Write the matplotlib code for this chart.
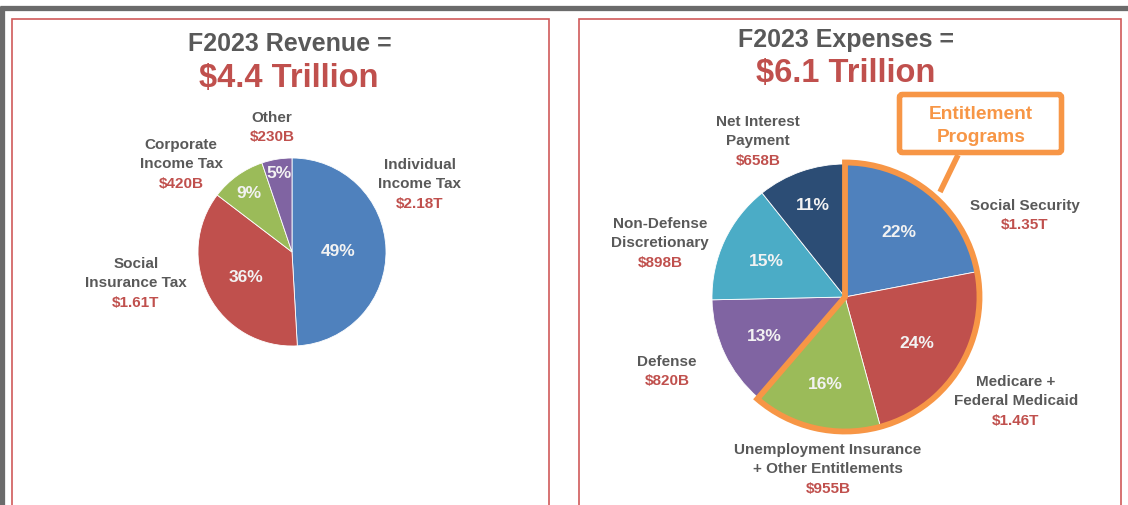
import numpy as np
import matplotlib.pyplot as plt
from matplotlib.patches import Rectangle, Wedge, FancyBboxPatch

plt.rcParams['font.family'] = ['Liberation Sans', 'DejaVu Sans']

# revenue data ($ trillions)
rev_names = ['Individual\nIncome Tax', 'Social\nInsurance Tax', 'Corporate\nIncome Tax', 'Other']
rev_labels = ['$2.18T', '$1.61T', '$420B', '$230B']
rev_values = [2.18, 1.61, 0.42, 0.23]

# expense data ($ trillions)
exp_names = ['Social Security', 'Medicare +\nFederal Medicaid',
             'Unemployment Insurance\n+ Other Entitlements', 'Defense',
             'Non-Defense\nDiscretionary', 'Net Interest\nPayment']
exp_labels = ['$1.35T', '$1.46T', '$955B', '$820B', '$898B', '$658B']
exp_values = [1.35, 1.46, 0.955, 0.820, 0.898, 0.658]
n_entitlement = 3

blue, red, green, purple = '#4F81BD', '#C0504D', '#9BBB59', '#8064A2'
cyan, navy = '#4BACC6', '#2C4D75'
orange = '#F79646'
gray = '#595959'

W, H = 1128, 506
fig = plt.figure(figsize=(W / 100, H / 100), dpi=100)
ax = fig.add_axes([0, 0, 1, 1])


def Y(y):
    return H - y


# slide frame + panels
ax.plot([0, W], [Y(8.5), Y(8.5)], color='#6B6B6B', lw=3.8, solid_capstyle='butt')
ax.plot([2, 2], [Y(7), 0], color='#6B6B6B', lw=3.8, solid_capstyle='butt')
for x0, x1 in [(12, 549), (579, 1121)]:
    ax.add_patch(Rectangle((x0, -10), x1 - x0, Y(20) + 10, fill=False,
                           edgecolor='#D05A5A', lw=1.2))


def draw_pie(values, colors, center, r, pct_dist):
    wedges, _ = ax.pie(values, colors=colors, startangle=90, counterclock=False,
                       center=(center[0], Y(center[1])), radius=r, frame=True,
                       wedgeprops=dict(edgecolor='white', linewidth=0.6))
    total = sum(values)
    for w, v, d in zip(wedges, values, pct_dist):
        a = np.deg2rad((w.theta1 + w.theta2) / 2)
        ax.text(center[0] + d * r * np.cos(a), Y(center[1]) + d * r * np.sin(a),
                f'{v / total * 100:.0f}%', color='#F2F2F2', fontsize=12.5,
                fontweight='bold', ha='center', va='center')


def draw_label(x, y0, name, value, step=19.3):
    lines = name.split('\n')
    for i, line in enumerate(lines):
        ax.text(x, Y(y0 + i * step), line, color=gray, fontsize=11,
                fontweight='bold', ha='center', va='center')
    ax.text(x, Y(y0 + len(lines) * step), value, color=red, fontsize=11,
            fontweight='bold', ha='center', va='center')


# revenue panel
ax.text(290, Y(44), 'F2023 Revenue =', color=gray, fontsize=18, fontweight='bold',
        ha='center', va='center')
ax.text(289, Y(78), '$4.4 Trillion', color=red, fontsize=23.5, fontweight='bold',
        ha='center', va='center')
draw_pie(rev_values, [blue, red, green, purple], (292, 253), 94, [0.49, 0.55, 0.78, 0.86])
rev_pos = [(420, 165), (136, 264), (181, 145), (272, 118)]
for (x, y), n, l in zip(rev_pos, rev_names, rev_labels):
    draw_label(x, y, n, l)

# expense panel
ax.text(846, Y(40), 'F2023 Expenses =', color=gray, fontsize=18, fontweight='bold',
        ha='center', va='center')
ax.text(846, Y(73), '$6.1 Trillion', color=red, fontsize=23.5, fontweight='bold',
        ha='center', va='center')
cx, cy, r = 845, 298, 133
draw_pie(exp_values, [blue, red, green, purple, cyan, navy], (cx, cy), r,
         [0.64, 0.64, 0.67, 0.67, 0.65, 0.74])
exp_pos = [(1025, 206), (1016, 382), (828, 450), (667, 362), (660, 224), (758, 122)]
for (x, y), n, l in zip(exp_pos, exp_names, exp_labels):
    draw_label(x, y, n, l)

# entitlement outline + callout
frac = sum(exp_values[:n_entitlement]) / sum(exp_values)
ax.add_patch(Wedge((cx, Y(cy)), r + 1.5, 90 - 360 * frac, 90, fill=False,
                   edgecolor=orange, lw=4.2, joinstyle='miter'))
ax.plot([958, 940], [Y(156), Y(193)], color=orange, lw=4.0, solid_capstyle='butt')
ax.add_patch(FancyBboxPatch((899.5, Y(153.5)), 162, 58, boxstyle='round,pad=0,rounding_size=3',
                            facecolor='white', edgecolor=orange, lw=4.0))
ax.text(981, Y(114), 'Entitlement', color=orange, fontsize=13.8, fontweight='bold',
        ha='center', va='center')
ax.text(981, Y(137), 'Programs', color=orange, fontsize=13.8, fontweight='bold',
        ha='center', va='center')

ax.set_xlim(0, W)
ax.set_ylim(0, H)
ax.set_aspect('auto')
ax.axis('off')
fig.savefig('out.png', dpi=100)
